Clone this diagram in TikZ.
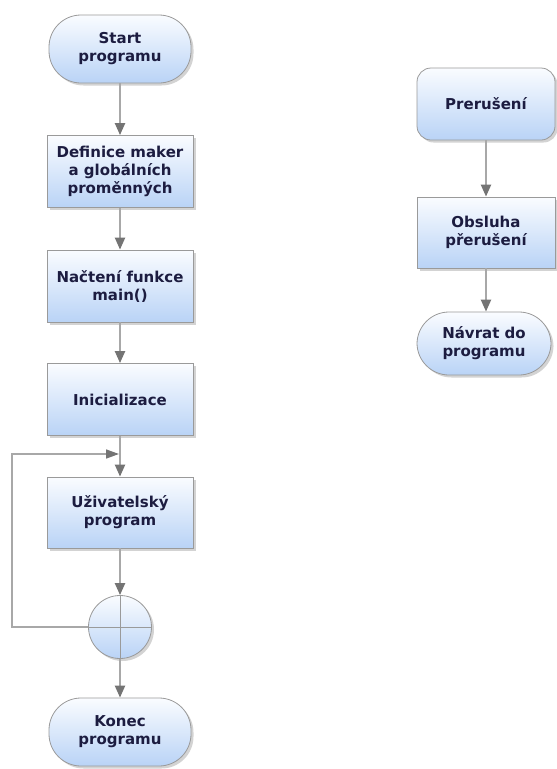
\documentclass[tikz,border=0pt]{standalone}
\usepackage{fontspec}
\setmainfont{DejaVu Sans}
\usetikzlibrary{arrows.meta,shadows}

\definecolor{boxtop}{HTML}{FAFCFF}
\definecolor{boxbot}{HTML}{B9D3F6}
\definecolor{boxedge}{HTML}{9A9A9A}
\definecolor{txt}{HTML}{1C1C40}
\definecolor{flowline}{HTML}{A8A8A8}
\definecolor{tipcol}{HTML}{747474}

\tikzset{
  base/.style={draw=boxedge, line width=0.8pt, top color=boxtop, bottom color=boxbot,
    text=txt, font=\fontsize{15}{18}\selectfont\bfseries, align=center, inner sep=2pt,
    drop shadow={shadow xshift=2.5pt, shadow yshift=-2.5pt, opacity=0.35}},
  stepbox/.style={base, rectangle, minimum width=146pt, minimum height=72pt},
  termbox/.style={base, rectangle, rounded corners=32pt, minimum width=142pt, minimum height=68pt},
  roundbox/.style={base, rectangle, rounded corners=14pt, minimum width=138pt, minimum height=72pt},
  joinnode/.style={base, circle, minimum size=63pt, inner sep=0pt},
  flow/.style={draw=flowline, line width=2.2pt, -{Triangle[length=12pt,width=10pt,color=tipcol]}},
  loopline/.style={draw=flowline, line width=1.5pt, -{Triangle[length=13pt,width=9pt,color=tipcol]}},
  crossline/.style={draw=boxedge, line width=0.8pt},
}

\begin{document}
\begin{tikzpicture}[x=1pt,y=-1pt]
  \useasboundingbox (0,0) rectangle (557,769);

  % main program flow
  \node[termbox] (start) at (120,49)    {Start\\programu};
  \node[stepbox] (def)   at (120,171.5) {Definice maker\\a globálních\\proměnných};
  \node[stepbox] (nac)   at (120,286)   {Načtení funkce\\main()};
  \node[stepbox] (ini)   at (120,399.5) {Inicializace};
  \node[stepbox, minimum height=71pt] (uziv) at (120,512.5) {Uživatelský\\program};
  \node[joinnode] (join) at (120,627) {};
  \node[termbox] (konec) at (120,732) {Konec\\programu};

  % interrupt flow
  \node[roundbox] (prer) at (486,104) {Prerušení};
  \node[stepbox, minimum width=138pt, minimum height=71pt] (obs) at (486,232.5) {Obsluha\\přerušení};
  \node[termbox, minimum width=134pt, minimum height=63pt] (navrat) at (484,343.5) {Návrat do\\programu};

  % cross inside the junction
  \draw[crossline] (join.north) -- (join.south) (join.west) -- (join.east);

  % connectors
  \draw[flow] (start) -- (def);
  \draw[flow] (def) -- (nac);
  \draw[flow] (nac) -- (ini);
  \draw[flow] (ini) -- (uziv);
  \draw[flow] (uziv) -- (join);
  \draw[flow] (join) -- (konec);
  \draw[flow] (prer) -- (obs);
  \draw[flow] (obs.south) -- (obs.south |- navrat.north);

  % loop back to the user program
  \coordinate (loopcorner) at (12,627);
  \coordinate (loopin) at (119,454);
  \draw[loopline] (join.west) -- (loopcorner) |- (loopin);
\end{tikzpicture}
\end{document}
